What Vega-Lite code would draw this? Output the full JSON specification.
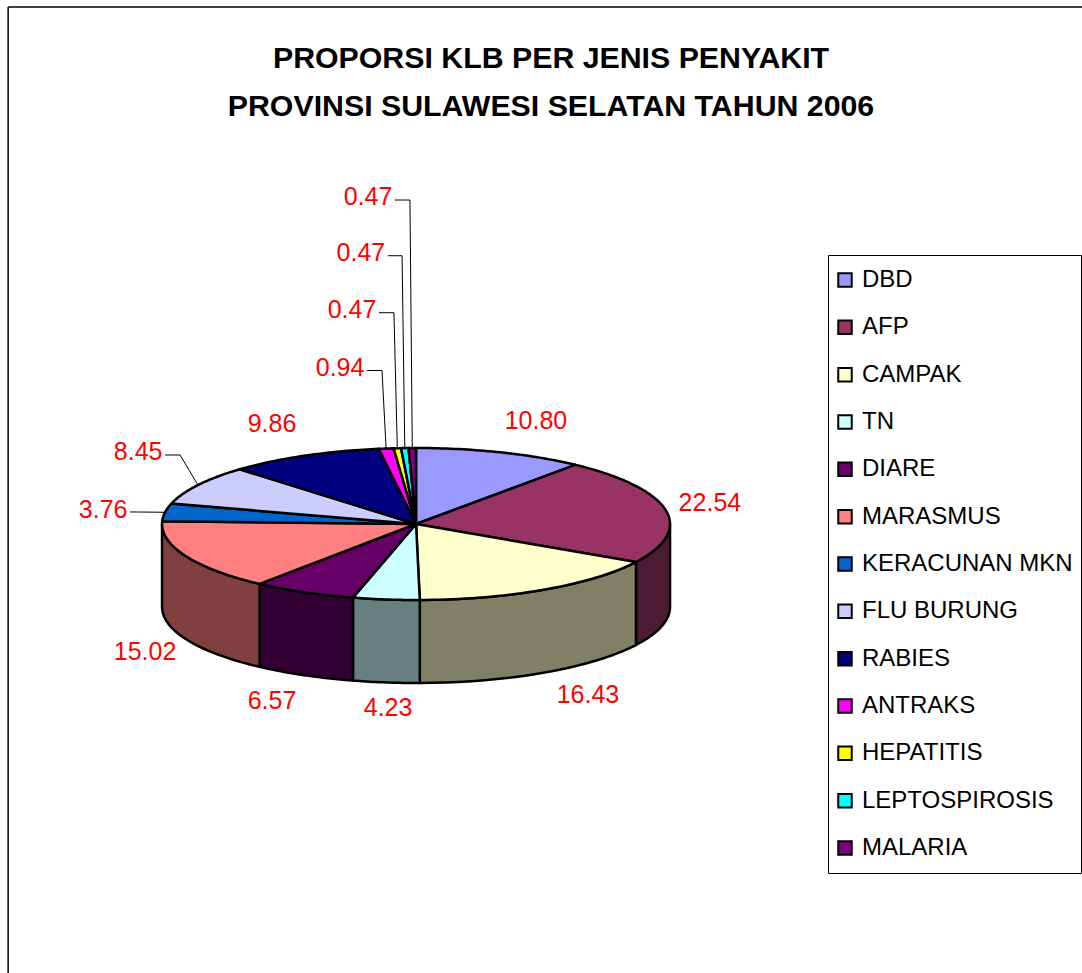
{
"$schema":"https://vega.github.io/schema/vega-lite/v6.json",
"width":1082,"height":973,"padding":0,"autosize":{"type":"none"},"background":"white",
"config":{"view":{"stroke":null},"font":"Liberation Sans"},
"title":{"text":["PROPORSI KLB PER JENIS PENYAKIT","PROVINSI SULAWESI SELATAN TAHUN 2006"],"font":"Liberation Sans","fontSize":30.3,"fontWeight":"bold","color":"black","lineHeight":48,"anchor":"middle","dx":10,"dy":126},
"datasets":{
"klb":[
{"name":"DBD","value":10.80},{"name":"AFP","value":22.54},{"name":"CAMPAK","value":16.43},{"name":"TN","value":4.23},{"name":"DIARE","value":6.57},{"name":"MARASMUS","value":15.02},{"name":"KERACUNAN MKN","value":3.76},{"name":"FLU BURUNG","value":8.45},{"name":"RABIES","value":9.86},{"name":"ANTRAKS","value":0.94},{"name":"HEPATITIS","value":0.47},{"name":"LEPTOSPIROSIS","value":0.47},{"name":"MALARIA","value":0.47}],
"labelPlacement":[
{"name":"DBD","across":0.472,"up":1.355},{"name":"AFP","across":1.157,"up":0.276},{"name":"CAMPAK","across":0.677,"up":-2.25},{"name":"TN","across":-0.11,"up":-2.42},{"name":"DIARE","across":-0.567,"up":-2.33},{"name":"MARASMUS","across":-1.067,"up":-1.684},
{"name":"KERACUNAN MKN","across":-1.232,"up":0.184,"elbow":-1.1,"leaderUp":0.158},
{"name":"FLU BURUNG","across":-1.094,"up":0.947,"elbow":-0.929,"leaderUp":0.908},
{"name":"RABIES","across":-0.567,"up":1.316},
{"name":"ANTRAKS","across":-0.299,"up":2.053,"elbow":-0.134,"leaderUp":2.02},
{"name":"HEPATITIS","across":-0.252,"up":2.816,"elbow":-0.087,"leaderUp":2.78},
{"name":"LEPTOSPIROSIS","across":-0.217,"up":3.566,"elbow":-0.055,"leaderUp":3.53},
{"name":"MALARIA","across":-0.189,"up":4.303,"elbow":-0.024,"leaderUp":4.263}]
},
"data":{"name":"klb"},
"transform":[
{"window":[{"op":"sum","field":"value","as":"cum"}],"ignorePeers":true},
{"joinaggregate":[{"op":"sum","field":"value","as":"total"}]},
{"calculate":"(datum.cum-datum.value)*360/datum.total","as":"a0"},
{"calculate":"datum.cum*360/datum.total","as":"a1"}
],
"layer":[
{"transform":[
{"calculate":"max(datum.a0,90)","as":"s"},{"calculate":"min(datum.a1,270)","as":"e"},
{"filter":"datum.s<datum.e"},
{"calculate":"sequence(0,43)","as":"p"},{"flatten":["p"]},
{"calculate":"datum.p<=20?datum.p/20:(41-datum.p)/20","as":"f"},
{"calculate":"(datum.s+(datum.e-datum.s)*max(datum.f,0))*PI/180","as":"t"},
{"calculate":"sin(datum.t)","as":"px"},
{"calculate":"cos(datum.t)-(datum.p>20&&datum.p<=41?1.092:0)","as":"py"}
],
"mark":{"type":"line","stroke":"black","strokeWidth":2.5,"strokeJoin":"round","clip":false},
"encoding":{
"x":{"field":"px","type":"quantitative","axis":null,"scale":{"domain":[-1.638,2.622],"nice":false,"zero":false}},
"y":{"field":"py","type":"quantitative","axis":null,"scale":{"domain":[-5.908,6.895],"nice":false,"zero":false}},
"order":{"field":"p","type":"quantitative"},
"fill":{"field":"name","type":"nominal","legend":null,"scale":{"domain":["AFP","CAMPAK","TN","DIARE","MARASMUS"],"range":["#4d1a33","#808066","#668080","#330033","#804040"]}}
}},
{"transform":[
{"calculate":"sequence(0,43)","as":"p"},{"flatten":["p"]},
{"calculate":"(datum.a0+(datum.a1-datum.a0)*(datum.p-1)/40)*PI/180","as":"t"},
{"calculate":"datum.p==0||datum.p>=42?0:sin(datum.t)","as":"px"},
{"calculate":"datum.p==0||datum.p>=42?0:cos(datum.t)","as":"py"}
],
"mark":{"type":"line","stroke":"black","strokeWidth":2.5,"strokeJoin":"round"},
"encoding":{
"x":{"field":"px","type":"quantitative"},
"y":{"field":"py","type":"quantitative"},
"order":{"field":"p","type":"quantitative"},
"fill":{"field":"name","type":"nominal",
"scale":{"domain":["DBD","AFP","CAMPAK","TN","DIARE","MARASMUS","KERACUNAN MKN","FLU BURUNG","RABIES","ANTRAKS","HEPATITIS","LEPTOSPIROSIS","MALARIA"],"range":["#9999ff","#993366","#ffffcc","#ccffff","#660066","#ff8080","#0066cc","#ccccff","#000080","#ff00ff","#ffff00","#00ffff","#800080"]},
"legend":{"title":null,"orient":"none","legendX":828,"legendY":255,"symbolType":"square","symbolSize":182,"symbolStrokeColor":"black","symbolStrokeWidth":2,"symbolOpacity":1,"symbolOffset":-3,"labelFont":"Liberation Sans","labelFontSize":24,"labelColor":"black","labelLimit":400,"labelOffset":5,"rowPadding":13.33,"clipHeight":34,"padding":8,"strokeColor":"black","fillColor":"white","offset":0,"values":["DBD","AFP","CAMPAK","TN","DIARE","MARASMUS","KERACUNAN MKN","FLU BURUNG","RABIES","ANTRAKS","HEPATITIS","LEPTOSPIROSIS","MALARIA"]}}
}},
{"transform":[
{"lookup":"name","from":{"data":{"name":"labelPlacement"},"key":"name","fields":["across","up","elbow","leaderUp"]}},
{"filter":"isValid(datum.elbow)"},
{"calculate":"sequence(0,3)","as":"p"},{"flatten":["p"]},
{"calculate":"(datum.a0+datum.a1)/2*PI/180","as":"t"},
{"calculate":"datum.p==0?datum.across+0.106:(datum.p==1?datum.elbow:sin(datum.t))","as":"px"},
{"calculate":"datum.p==2?cos(datum.t):datum.leaderUp","as":"py"}
],
"mark":{"type":"line","stroke":"black","strokeWidth":1},
"encoding":{
"x":{"field":"px","type":"quantitative"},
"y":{"field":"py","type":"quantitative"},
"order":{"field":"p","type":"quantitative"},
"detail":{"field":"name"}
}},
{"transform":[
{"lookup":"name","from":{"data":{"name":"labelPlacement"},"key":"name","fields":["across","up"]}}
],
"mark":{"type":"text","font":"Liberation Sans","fontSize":25,"color":"#ff0000","align":"center","baseline":"middle"},
"encoding":{
"x":{"field":"across","type":"quantitative"},
"y":{"field":"up","type":"quantitative"},
"text":{"field":"value","type":"quantitative","format":".2f"}
}},
{"data":{"values":[{}]},"transform":[],
"mark":{"type":"rule","stroke":"black","strokeWidth":1.5},
"encoding":{"x":{"datum":-1.606},"y":{"datum":6.803},"y2":{"datum":-5.908}}},
{"data":{"values":[{}]},"transform":[],
"mark":{"type":"rule","stroke":"black","strokeWidth":1.5},
"encoding":{"x":{"datum":-1.606},"x2":{"datum":2.622},"y":{"datum":6.803}}}
],
"resolve":{"scale":{"fill":"independent"}}
}
